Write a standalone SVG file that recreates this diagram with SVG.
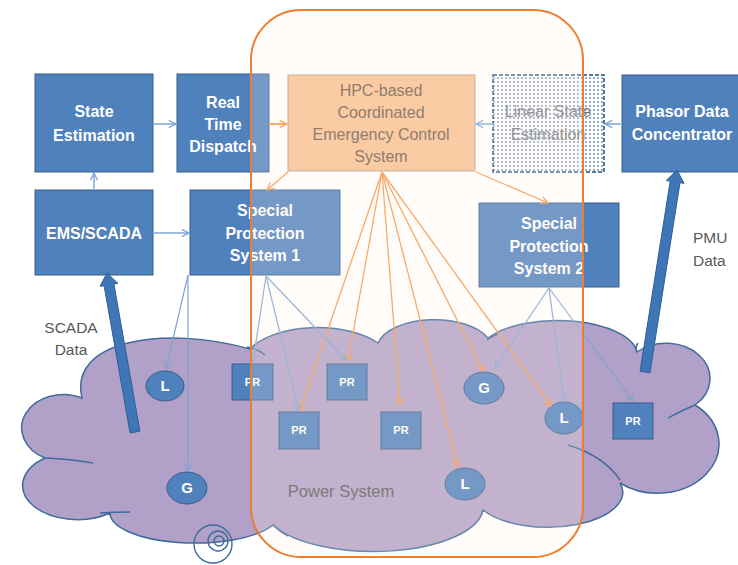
<svg xmlns="http://www.w3.org/2000/svg" width="738" height="565" viewBox="0 0 738 565">
  <defs>
    <style>
      .box{fill:#4f81bd;stroke:#385d8a;stroke-width:1}
      .wt{font-family:"Liberation Sans",Arial,sans-serif;font-size:16px;font-weight:bold;fill:#ffffff;text-anchor:middle}
      .gt{font-family:"Liberation Sans",Arial,sans-serif;font-size:16px;fill:#6f5c4d;text-anchor:middle}
      .lbl{font-family:"Liberation Sans",Arial,sans-serif;font-size:15.5px;fill:#595959}
      .pr{font-family:"Liberation Sans",Arial,sans-serif;font-size:11px;font-weight:bold;fill:#ffffff;text-anchor:middle}
      .node{fill:#4f81bd;stroke:#385d8a;stroke-width:1}
      .nt{font-family:"Liberation Sans",Arial,sans-serif;font-size:15px;font-weight:bold;fill:#ffffff;text-anchor:middle}
      .bl{stroke:#9bbbe0;stroke-width:2;fill:none;marker-end:url(#ab)}
      .bt{stroke:#7ea3d3;stroke-width:1.2;fill:none;marker-end:url(#ab)}
      .or{stroke:#f79646;stroke-width:1.3;fill:none;marker-end:url(#ao)}
      .thick{fill:#3f76b8;stroke:#2f5d94;stroke-width:1}
      .edge{fill:none;stroke:#3f6a9c;stroke-width:1.4}
    </style>
    <marker id="ab" viewBox="0 0 10 10" refX="9" refY="5" markerWidth="9" markerHeight="9" markerUnits="userSpaceOnUse" orient="auto">
      <path d="M1,1 L9,5 L1,9" fill="none" stroke="#7ea3d3" stroke-width="1.4"/>
    </marker>
    <marker id="ao" viewBox="0 0 10 10" refX="9" refY="5" markerWidth="9" markerHeight="9" markerUnits="userSpaceOnUse" orient="auto">
      <path d="M1,1 L9,5 L1,9" fill="none" stroke="#f79646" stroke-width="1.4"/>
    </marker>
    <pattern id="dots" width="4" height="4" patternUnits="userSpaceOnUse">
      <rect width="4" height="4" fill="#ffffff"/>
      <circle cx="2" cy="2" r="1" fill="#6d93c6"/>
    </pattern>
  </defs>

  <!-- power system cloud -->
  <g id="power-system">
    <path d="M82,398 C68,340 165,325 250,349 A75 38 0 0 1 378,343 A58 30 0 0 1 488,338 A80 35 0 0 1 637,352 A40 32 0 0 1 695,405 A50 40 0 0 1 620,483 A75 35 0 0 1 483,510 A110 45 0 0 1 273,525 A85 30 0 0 1 110,513 A45 28 0 0 1 45,458 A40 32 0 0 1 82,398 Z" fill="#b1a0c7" stroke="#3f6a9c" stroke-width="1.5"/>
    <g class="edge">
      <path d="M247,347 Q258,349 265,355"/>
      <path d="M487,340 Q492,336 498,334"/>
      <path d="M668,418 Q683,410 695,405"/>
      <path d="M568,445 Q604,456 620,480"/>
      <path d="M273,525 Q280,532 288,536"/>
      <path d="M100,513 Q115,512 130,512"/>
      <path d="M45,458 Q70,459 93,463"/>
      <path d="M637,352 Q635,347 638,343"/>
      <circle cx="213" cy="544" r="19"/>
      <circle cx="218" cy="541" r="10"/>
      <circle cx="219" cy="541" r="5"/>
    </g>
    <text class="lbl" x="341" y="497" text-anchor="middle" style="font-size:16.5px">Power System</text>
  </g>

  <!-- control centre boxes -->
  <g id="state-estimation">
    <rect class="box" x="35" y="74" width="118" height="98"/>
    <text class="wt" x="94" y="117">State</text>
    <text class="wt" x="94" y="141">Estimation</text>
  </g>
  <g id="real-time-dispatch">
    <rect class="box" x="177" y="74" width="92" height="98"/>
    <text class="wt" x="223" y="108">Real</text>
    <text class="wt" x="223" y="130">Time</text>
    <text class="wt" x="223" y="152">Dispatch</text>
  </g>
  <g id="hpc-control">
    <rect x="288" y="75" width="187" height="96" fill="#fac090" stroke="#b0a090" stroke-width="1"/>
    <text class="gt" x="381" y="96">HPC-based</text>
    <text class="gt" x="381" y="118">Coordinated</text>
    <text class="gt" x="381" y="140">Emergency Control</text>
    <text class="gt" x="381" y="162">System</text>
  </g>
  <g id="linear-state-estimation">
    <rect x="493" y="75" width="111" height="97" fill="url(#dots)" stroke="#1f4e79" stroke-width="1.5" stroke-dasharray="4 2"/>
    <text class="gt" x="548" y="117" style="fill:#7a7a7a">Linear State</text>
    <text class="gt" x="548" y="140" style="fill:#7a7a7a">Estimation</text>
  </g>
  <g id="phasor-data-concentrator">
    <rect class="box" x="622" y="75" width="122" height="97"/>
    <text class="wt" x="682" y="117">Phasor Data</text>
    <text class="wt" x="682" y="140">Concentrator</text>
  </g>
  <g id="ems-scada">
    <rect class="box" x="35" y="190" width="118" height="85"/>
    <text class="wt" x="94" y="239">EMS/SCADA</text>
  </g>
  <g id="sps-1">
    <rect class="box" x="190" y="190" width="150" height="85"/>
    <text class="wt" x="265" y="216">Special</text>
    <text class="wt" x="265" y="239">Protection</text>
    <text class="wt" x="265" y="261">System 1</text>
  </g>
  <g id="sps-2">
    <rect class="box" x="479" y="203" width="140" height="84"/>
    <text class="wt" x="549" y="229">Special</text>
    <text class="wt" x="549" y="252">Protection</text>
    <text class="wt" x="549" y="274">System 2</text>
  </g>

  <!-- field devices -->
  <g id="pr-1"><rect class="box" x="232" y="364" width="41" height="36"/><text class="pr" x="252.5" y="386">PR</text></g>
  <g id="pr-2"><rect class="box" x="327" y="364" width="40" height="36"/><text class="pr" x="347" y="386">PR</text></g>
  <g id="pr-3"><rect class="box" x="279" y="412" width="40" height="37"/><text class="pr" x="299" y="434">PR</text></g>
  <g id="pr-4"><rect class="box" x="381" y="412" width="40" height="37"/><text class="pr" x="401" y="434">PR</text></g>
  <g id="pr-5"><rect class="box" x="613" y="403" width="40" height="36"/><text class="pr" x="633" y="425">PR</text></g>
  <g id="load-1"><ellipse class="node" cx="165" cy="386" rx="19" ry="15"/><text class="nt" x="165" y="391">L</text></g>
  <g id="gen-1"><ellipse class="node" cx="187" cy="488" rx="20" ry="16"/><text class="nt" x="187" y="493">G</text></g>
  <g id="gen-2"><ellipse class="node" cx="484" cy="388" rx="20" ry="16"/><text class="nt" x="484" y="393">G</text></g>
  <g id="load-2"><ellipse class="node" cx="564" cy="418" rx="19" ry="16"/><text class="nt" x="564" y="423">L</text></g>
  <g id="load-3"><ellipse class="node" cx="465" cy="484" rx="20" ry="16"/><text class="nt" x="465" y="489">L</text></g>

  <!-- connectors -->
  <g id="connectors">
    <line class="bl" x1="153" y1="124" x2="176" y2="124"/>
    <line class="or" x1="269" y1="124" x2="287" y2="124" style="stroke-width:2"/>
    <line class="bl" x1="493" y1="124" x2="476" y2="124"/>
    <line class="bl" x1="622" y1="124" x2="605" y2="124"/>
    <line class="bl" x1="94" y1="190" x2="94" y2="173"/>
    <line class="bl" x1="153" y1="233" x2="189" y2="233"/>
    <line class="or" x1="288" y1="172" x2="267" y2="190"/>
    <line class="or" x1="476" y1="172" x2="548" y2="203"/>
    <line class="or" x1="382" y1="172" x2="300" y2="411"/>
    <line class="or" x1="382" y1="172" x2="348" y2="361"/>
    <line class="or" x1="382" y1="172" x2="400" y2="405"/>
    <line class="or" x1="382" y1="172" x2="458" y2="467"/>
    <line class="or" x1="382" y1="172" x2="483" y2="371"/>
    <line class="or" x1="382" y1="172" x2="551" y2="406"/>
    <line class="bt" x1="188" y1="275" x2="166" y2="369"/>
    <line class="bt" x1="188" y1="275" x2="188" y2="471"/>
    <line class="bt" x1="266" y1="276" x2="253" y2="362"/>
    <line class="bt" x1="266" y1="276" x2="299" y2="411"/>
    <line class="bt" x1="266" y1="276" x2="347" y2="361"/>
    <line class="bt" x1="549" y1="288" x2="495" y2="368"/>
    <line class="bt" x1="549" y1="288" x2="564" y2="401"/>
    <line class="bt" x1="549" y1="288" x2="633" y2="401"/>
    <polygon class="thick" points="139.9,431.2 113.9,284 117.9,283.3 107,273 100.1,286.3 104.1,285.7 130.1,432.9"/>
    <polygon class="thick" points="649.9,372.8 680,182.7 684,183.3 677,170 666.2,180.5 670.2,181.1 640.1,371.2"/>
  </g>

  <!-- HPC coordination boundary -->
  <g id="hpc-boundary">
    <rect x="251" y="10" width="332" height="547" rx="50" ry="50" fill="rgb(255,240,230)" fill-opacity="0.22" stroke="#ed7d31" stroke-width="2"/>
  </g>

  <g id="data-labels">
    <text class="lbl" x="71" y="333" text-anchor="middle">SCADA</text>
    <text class="lbl" x="71" y="355" text-anchor="middle">Data</text>
    <text class="lbl" x="693" y="243">PMU</text>
    <text class="lbl" x="693" y="266">Data</text>
  </g>
</svg>
